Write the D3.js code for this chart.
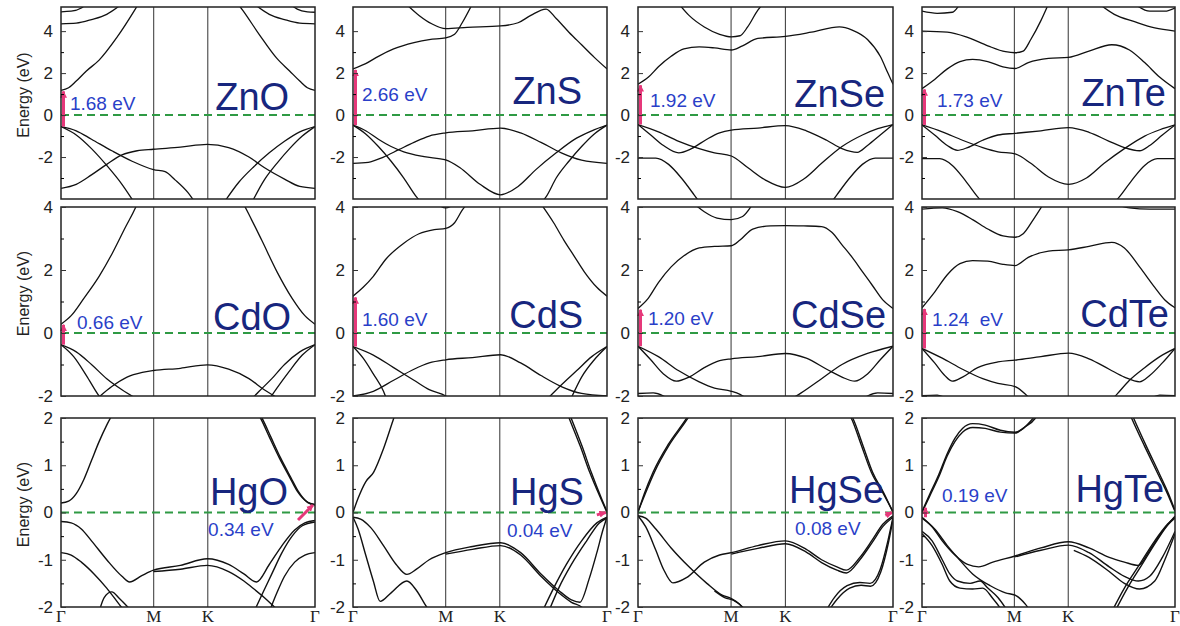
<!DOCTYPE html>
<html>
<head>
<meta charset="utf-8">
<script src="https://cdn.jsdelivr.net/npm/d3@7"></script>
<style>
  body { margin: 0; background: #fff; }
  svg { display: block; }
</style>
</head>
<body>
<div id="chart"></div>
<script>
// ---- data -------------------------------------------------------------
const materials = ["ZnO", "ZnS", "ZnSe", "ZnTe", "CdO", "CdS", "CdSe", "CdTe", "HgO", "HgS", "HgSe", "HgTe"]
const gapLabels = ["1.68 eV", "2.66 eV", "1.92 eV", "1.73 eV", "0.66 eV", "1.60 eV", "1.20 eV", "1.24  eV", "0.34 eV", "0.04 eV", "0.08 eV", "0.19 eV"]

// high-symmetry points along the path (fraction of path length)
const kLabels = ["Γ", "M", "K", "Γ"]
const kTicks = [0, 0.365, 0.578, 1]

// energy windows (eV) and ticks per row
const rowDomains = [[-4, 5.15], [-2, 4], [-2, 2]]
const rowTicks = [[-2, 0, 2, 4], [-2, 0, 2, 4], [-2, -1, 0, 1, 2]]
const rowMinorTicks = [[-3, -1, 1, 3], [-1, 1, 3], [-1.5, -0.5, 0.5, 1.5]]

// gap arrows: [k, E] start (VBM) -> end (CBM)
const gapArrows = [
  [[0, -0.55], [0, 1.13]], [[0, -0.48], [0, 2.15]], [[0, -0.45], [0, 1.42]], [[0, -0.47], [0, 1.22]],
  [[0, -0.37], [0, 0.26]], [[0, -0.43], [0, 1.13]], [[0, -0.42], [0, 0.74]], [[0, -0.49], [0, 0.76]],
  [[0.933, -0.16], [0.992, 0.16]], [[0.96, -0.05], [0.995, 0.0]], [[0.97, -0.06], [0.996, 0.0]], [[0.004, -0.1], [0.004, 0.1]]
]

// bands: each is a list of [k, E(eV)]
const bandsZnO = [
  [[0, 1.18], [0.03, 1.3], [0.06, 1.62], [0.1, 2.1], [0.15, 2.62], [0.22, 3.7], [0.29, 5.0], [0.31, 5.4]],
  [[0.69, 5.4], [0.715, 5.0], [0.78, 3.85], [0.85, 2.7], [0.9, 2.1], [0.94, 1.62], [0.97, 1.3], [1, 1.18]],
  [[0, 4.35], [0.06, 4.38], [0.12, 4.55], [0.18, 4.8], [0.24, 5.3]],
  [[0.76, 5.3], [0.82, 4.8], [0.88, 4.55], [0.94, 4.38], [1, 4.35]],
  [[0, 4.92], [0.04, 4.95], [0.08, 5.1], [0.1, 5.3]],
  [[0.9, 5.3], [0.93, 5.05], [0.97, 4.92], [1, 4.9]],
  [[0, -3.49], [0.06, -3.3], [0.12, -2.85], [0.18, -2.35], [0.24, -1.9], [0.3, -1.7], [0.364, -1.63], [0.47, -1.53], [0.576, -1.4], [0.66, -1.55], [0.74, -2.0], [0.8, -2.5], [0.88, -3.05], [0.94, -3.4], [1, -3.49]],
  [[0, -0.55], [0.06, -0.75], [0.12, -1.15], [0.2, -1.7], [0.28, -2.2], [0.364, -2.6], [0.41, -2.7], [0.45, -3.1], [0.5, -3.7], [0.53, -4.2]],
  [[0, -0.55], [0.06, -0.95], [0.12, -1.6], [0.18, -2.4], [0.24, -3.3], [0.29, -4.2]],
  [[0.64, -4.2], [0.7, -3.2], [0.76, -2.45], [0.82, -1.8], [0.88, -1.25], [0.94, -0.8], [1, -0.55]],
  [[0.75, -4.2], [0.8, -3.1], [0.85, -2.3], [0.9, -1.6], [0.95, -1.0], [1, -0.55]]
]
const bandsZnS = [
  [[0, 2.2], [0.05, 2.45], [0.1, 2.8], [0.16, 3.15], [0.24, 3.45], [0.3, 3.6], [0.365, 3.68], [0.4, 3.85], [0.43, 4.4], [0.47, 5.3]],
  [[0.2, 5.4], [0.26, 4.75], [0.31, 4.35], [0.365, 4.12], [0.45, 4.18], [0.581, 4.25], [0.65, 4.4], [0.7, 4.75], [0.76, 5.05], [0.8, 4.6], [0.85, 3.95], [0.9, 3.35], [0.95, 2.75], [1, 2.2]],
  [[0, -2.3], [0.06, -2.25], [0.12, -2.0], [0.18, -1.65], [0.24, -1.3], [0.3, -1.0], [0.365, -0.85], [0.47, -0.75], [0.581, -0.62], [0.66, -0.85], [0.74, -1.3], [0.82, -1.8], [0.9, -2.15], [1, -2.3]],
  [[0, -0.48], [0.05, -0.75], [0.1, -1.15], [0.15, -1.5], [0.2, -1.75], [0.28, -1.98], [0.365, -2.14], [0.42, -2.5], [0.5, -3.3], [0.581, -3.8], [0.65, -3.4], [0.72, -2.6], [0.8, -1.8], [0.88, -1.1], [0.94, -0.75], [1, -0.48]],
  [[0, -0.48], [0.05, -0.9], [0.1, -1.5], [0.15, -2.2], [0.2, -3.0], [0.25, -3.9], [0.28, -4.3]],
  [[0.73, -4.3], [0.76, -3.9], [0.8, -3.0], [0.85, -2.2], [0.9, -1.5], [0.95, -0.9], [1, -0.48]]
]
const bandsZnSe = [
  [[0, 1.47], [0.04, 1.8], [0.08, 2.3], [0.13, 2.8], [0.18, 3.15], [0.24, 3.25], [0.3, 3.2], [0.366, 3.1], [0.41, 3.3], [0.47, 3.65], [0.578, 3.75], [0.68, 3.95], [0.79, 4.2], [0.84, 4.05], [0.9, 3.6], [0.95, 2.8], [0.98, 2.0], [1, 1.47]],
  [[0.16, 5.3], [0.2, 4.75], [0.26, 4.2], [0.32, 3.85], [0.366, 3.73], [0.4, 3.78], [0.43, 4.2], [0.47, 5.0], [0.49, 5.3]],
  [[0, -0.45], [0.05, -0.95], [0.1, -1.45], [0.16, -1.8], [0.21, -1.6], [0.27, -1.15], [0.32, -0.85], [0.366, -0.72], [0.47, -0.62], [0.578, -0.5], [0.66, -0.75], [0.74, -1.2], [0.8, -1.6], [0.86, -1.78], [0.9, -1.45], [0.95, -0.95], [1, -0.45]],
  [[0, -0.45], [0.08, -0.8], [0.16, -1.25], [0.24, -1.6], [0.3, -1.8], [0.366, -1.95], [0.43, -2.5], [0.5, -3.1], [0.578, -3.45], [0.65, -3.05], [0.72, -2.3], [0.8, -1.5], [0.88, -0.95], [0.94, -0.65], [1, -0.45]],
  [[0, -2.05], [0.07, -2.05], [0.12, -2.35], [0.17, -3.0], [0.22, -3.8], [0.25, -4.3]],
  [[0.75, -4.3], [0.78, -3.8], [0.83, -3.0], [0.88, -2.35], [0.93, -2.05], [1, -2.05]]
]
const bandsZnTe = [
  [[0, 1.26], [0.05, 1.7], [0.1, 2.2], [0.15, 2.55], [0.2, 2.65], [0.26, 2.55], [0.32, 2.3], [0.368, 2.22], [0.42, 2.5], [0.5, 2.7], [0.579, 2.75], [0.66, 3.05], [0.75, 3.35], [0.82, 3.1], [0.88, 2.5], [0.94, 1.8], [1, 1.26]],
  [[0, 4.0], [0.1, 3.95], [0.18, 3.7], [0.26, 3.3], [0.33, 3.02], [0.368, 2.97], [0.4, 3.05], [0.43, 3.6], [0.47, 4.5], [0.5, 5.3]],
  [[0.7, 5.3], [0.76, 4.8], [0.84, 4.45], [0.92, 4.15], [1, 4.0]],
  [[0.84, 5.3], [0.9, 4.95], [0.96, 4.95], [1, 5.1]],
  [[0, 4.95], [0.06, 4.85], [0.12, 4.9], [0.15, 5.3]],
  [[0, -0.47], [0.05, -0.95], [0.1, -1.45], [0.14, -1.68], [0.18, -1.55], [0.24, -1.2], [0.3, -0.95], [0.368, -0.87], [0.47, -0.75], [0.579, -0.6], [0.66, -0.82], [0.74, -1.25], [0.8, -1.55], [0.86, -1.7], [0.9, -1.45], [0.95, -0.95], [1, -0.47]],
  [[0, -0.47], [0.08, -0.8], [0.16, -1.2], [0.24, -1.55], [0.3, -1.75], [0.368, -1.85], [0.43, -2.3], [0.5, -2.95], [0.579, -3.3], [0.65, -3.0], [0.72, -2.3], [0.8, -1.6], [0.88, -1.0], [0.94, -0.7], [1, -0.47]],
  [[0, -2.08], [0.07, -2.08], [0.12, -2.4], [0.17, -3.1], [0.22, -3.9], [0.25, -4.3]],
  [[0.75, -4.3], [0.78, -3.9], [0.83, -3.1], [0.88, -2.4], [0.93, -2.08], [1, -2.08]]
]
const bandsCdO = [
  [[0, 0.28], [0.04, 0.55], [0.09, 1.1], [0.15, 1.8], [0.2, 2.5], [0.25, 3.3], [0.3, 4.1], [0.31, 4.3]],
  [[0.7, 4.3], [0.71, 4.2], [0.75, 3.6], [0.79, 2.95], [0.85, 1.95], [0.91, 1.1], [0.96, 0.55], [1, 0.28]],
  [[0.14, -2.1], [0.2, -1.7], [0.26, -1.4], [0.32, -1.25], [0.364, -1.19], [0.47, -1.12], [0.576, -1.01], [0.66, -1.15], [0.74, -1.45], [0.8, -1.8], [0.84, -2.0], [0.86, -2.1]],
  [[0, -0.37], [0.05, -0.75], [0.1, -1.35], [0.15, -2.0], [0.17, -2.2]],
  [[0, -0.37], [0.06, -0.6], [0.12, -1.0], [0.18, -1.45], [0.24, -1.8], [0.3, -2.1]],
  [[0.82, -2.1], [0.85, -1.75], [0.9, -1.2], [0.95, -0.7], [1, -0.37]],
  [[0.75, -2.1], [0.78, -1.85], [0.83, -1.45], [0.88, -1.0], [0.94, -0.6], [1, -0.37]]
]
const bandsCdS = [
  [[0, 1.17], [0.04, 1.45], [0.08, 1.8], [0.13, 2.35], [0.2, 2.85], [0.26, 3.15], [0.32, 3.28], [0.365, 3.32], [0.4, 3.5], [0.43, 3.9], [0.46, 4.2]],
  [[0.33, 4.1], [0.365, 3.97], [0.4, 4.1]],
  [[0.74, 4.1], [0.79, 3.5], [0.83, 2.95], [0.87, 2.45], [0.91, 1.95], [0.96, 1.45], [1, 1.17]],
  [[0, -2.0], [0.08, -1.85], [0.16, -1.5], [0.24, -1.15], [0.3, -0.95], [0.365, -0.85], [0.47, -0.78], [0.581, -0.69], [0.66, -0.95], [0.74, -1.35], [0.82, -1.7], [0.9, -1.92], [1, -2.0]],
  [[0, -0.43], [0.08, -0.7], [0.16, -1.1], [0.24, -1.5], [0.3, -1.8], [0.365, -2.0], [0.4, -2.2]],
  [[0.77, -2.05], [0.82, -1.65], [0.88, -1.2], [0.94, -0.75], [1, -0.43]],
  [[0.86, -2.05], [0.9, -1.4], [0.95, -0.85], [1, -0.43]],
  [[0, -0.43], [0.04, -0.8], [0.08, -1.3], [0.12, -1.85], [0.13, -2.05]]
]
const bandsCdSe = [
  [[0, 0.78], [0.04, 1.1], [0.08, 1.6], [0.13, 2.1], [0.18, 2.45], [0.24, 2.7], [0.3, 2.75], [0.366, 2.77], [0.4, 2.95], [0.45, 3.3], [0.52, 3.4], [0.578, 3.41], [0.65, 3.4], [0.72, 3.38], [0.76, 3.2], [0.8, 2.8], [0.84, 2.4], [0.88, 1.95], [0.92, 1.5], [0.96, 1.05], [1, 0.78]],
  [[0.22, 4.1], [0.26, 3.85], [0.31, 3.65], [0.366, 3.6], [0.41, 3.7], [0.45, 4.1]],
  [[0, -0.42], [0.05, -0.85], [0.1, -1.3], [0.15, -1.53], [0.2, -1.4], [0.26, -1.1], [0.32, -0.88], [0.366, -0.82], [0.47, -0.75], [0.578, -0.65], [0.66, -0.8], [0.74, -1.15], [0.8, -1.4], [0.85, -1.53], [0.9, -1.3], [0.95, -0.85], [1, -0.42]],
  [[0, -0.42], [0.08, -0.75], [0.16, -1.2], [0.24, -1.55], [0.3, -1.75], [0.366, -1.85], [0.4, -1.95], [0.43, -2.1]],
  [[0.6, -2.1], [0.64, -1.9], [0.72, -1.45], [0.8, -1.0], [0.9, -0.65], [1, -0.42]],
  [[0, -1.92], [0.06, -1.9], [0.1, -2.0], [0.12, -2.1]],
  [[0.88, -2.1], [0.9, -2.0], [0.94, -1.9], [1, -1.92]]
]
const bandsCdTe = [
  [[0, 0.8], [0.05, 1.3], [0.1, 1.85], [0.15, 2.2], [0.2, 2.3], [0.26, 2.28], [0.32, 2.18], [0.368, 2.14], [0.42, 2.4], [0.5, 2.6], [0.579, 2.64], [0.66, 2.75], [0.75, 2.88], [0.8, 2.7], [0.86, 2.1], [0.92, 1.45], [0.96, 1.05], [1, 0.8]],
  [[0, 3.93], [0.08, 3.97], [0.14, 3.85], [0.2, 3.6], [0.26, 3.3], [0.32, 3.08], [0.368, 3.04], [0.4, 3.15], [0.44, 3.6], [0.48, 4.1]],
  [[0.76, 4.1], [0.82, 3.97], [0.9, 3.93], [1, 3.93]],
  [[0, -0.49], [0.05, -0.95], [0.09, -1.35], [0.12, -1.53], [0.16, -1.4], [0.22, -1.1], [0.3, -0.92], [0.368, -0.86], [0.47, -0.75], [0.579, -0.64], [0.66, -0.82], [0.74, -1.15], [0.8, -1.4], [0.86, -1.55], [0.9, -1.35], [0.95, -0.95], [1, -0.49]],
  [[0, -0.49], [0.08, -0.8], [0.16, -1.15], [0.24, -1.45], [0.3, -1.6], [0.368, -1.7], [0.41, -1.95], [0.44, -2.2]],
  [[0.74, -2.2], [0.77, -1.95], [0.82, -1.5], [0.88, -1.1], [0.94, -0.75], [1, -0.49]],
  [[0, -1.99], [0.06, -1.97], [0.1, -2.1]],
  [[0.9, -2.1], [0.94, -1.97], [1, -1.99]]
]
const bandsHgO = [
  [[0, 0.2], [0.03, 0.24], [0.06, 0.4], [0.09, 0.7], [0.12, 1.1], [0.15, 1.5], [0.18, 1.85], [0.21, 2.15]],
  [[0.77, 2.15], [0.79, 1.95], [0.82, 1.6], [0.86, 1.15], [0.9, 0.75], [0.93, 0.45], [0.97, 0.22], [1, 0.17]],
  [[0.776, 2.15], [0.796, 1.95], [0.826, 1.6], [0.865, 1.15], [0.905, 0.74], [0.935, 0.44], [0.972, 0.21], [1, 0.16]],
  [[0, -0.19], [0.04, -0.22], [0.08, -0.35], [0.12, -0.6], [0.18, -1.0], [0.24, -1.35], [0.27, -1.47], [0.32, -1.33], [0.364, -1.22], [0.47, -1.12], [0.576, -0.98], [0.66, -1.1], [0.72, -1.3], [0.77, -1.47], [0.82, -1.1], [0.87, -0.7], [0.92, -0.37], [0.96, -0.22], [1, -0.17]],
  [[0.364, -1.25], [0.47, -1.2], [0.576, -1.12], [0.66, -1.25], [0.72, -1.45], [0.76, -1.62], [0.8, -1.8], [0.84, -2.0], [0.86, -2.1]],
  [[0.76, -2.1], [0.79, -1.75], [0.83, -1.3], [0.87, -0.85], [0.91, -0.5], [0.95, -0.28], [1, -0.2]],
  [[0, -0.85], [0.04, -0.9], [0.08, -1.05], [0.13, -1.3], [0.18, -1.6], [0.23, -1.95], [0.26, -2.15]],
  [[0.15, -2.1], [0.17, -1.8], [0.2, -1.68], [0.23, -1.82], [0.28, -2.1]],
  [[0.82, -2.1], [0.85, -1.7], [0.88, -1.35], [0.92, -1.05], [0.96, -0.9], [1, -0.85]]
]
const bandsHgS = [
  [[0, 0], [0.02, 0.3], [0.05, 0.65], [0.081, 0.85], [0.12, 1.35], [0.16, 1.99], [0.17, 2.15]],
  [[0.84, 2.15], [0.853, 1.97], [0.895, 1.4], [0.932, 0.85], [0.975, 0.3], [1, 0]],
  [[0.848, 2.15], [0.861, 1.97], [0.902, 1.4], [0.938, 0.85], [0.978, 0.3], [1, 0.02]],
  [[0, -0.1], [0.03, -0.14], [0.07, -0.32], [0.12, -0.7], [0.17, -1.1], [0.212, -1.31], [0.25, -1.2], [0.3, -1.0], [0.365, -0.85], [0.47, -0.72], [0.581, -0.64], [0.66, -0.85], [0.74, -1.3], [0.81, -1.65], [0.86, -1.85], [0.893, -1.9], [0.93, -1.4], [0.96, -0.85], [0.985, -0.35], [1, -0.1]],
  [[0.365, -0.88], [0.47, -0.78], [0.581, -0.7], [0.66, -0.9], [0.74, -1.35], [0.81, -1.7], [0.86, -1.9], [0.9, -2.0], [0.92, -2.1]],
  [[0.745, -2.1], [0.79, -1.6], [0.84, -1.1], [0.9, -0.6], [0.96, -0.22], [1, -0.1]],
  [[0.77, -2.1], [0.81, -1.6], [0.86, -1.1], [0.92, -0.6], [0.97, -0.22], [1, -0.12]],
  [[0, -0.1], [0.02, -0.35], [0.05, -0.9], [0.08, -1.45], [0.107, -1.88], [0.15, -1.7], [0.212, -1.45], [0.25, -1.65], [0.29, -2.0], [0.31, -2.15]]
]
const bandsHgSe = [
  [[0, 0], [0.025, 0.4], [0.059, 0.85], [0.12, 1.45], [0.19, 1.99], [0.205, 2.12]],
  [[0, 0.02], [0.03, 0.42], [0.064, 0.85], [0.125, 1.45], [0.195, 1.99], [0.21, 2.12]],
  [[0.83, 2.12], [0.843, 1.99], [0.88, 1.45], [0.92, 0.85], [0.965, 0.4], [1, 0]],
  [[0.824, 2.12], [0.837, 1.99], [0.874, 1.45], [0.915, 0.85], [0.962, 0.4], [1, 0.02]],
  [[0, -0.07], [0.03, -0.12], [0.07, -0.35], [0.13, -0.75], [0.2, -1.15], [0.27, -1.5], [0.33, -1.75], [0.366, -1.82], [0.4, -1.95], [0.42, -2.1]],
  [[0.3, -1.66], [0.34, -1.8], [0.375, -1.86], [0.41, -2.0], [0.43, -2.12]],
  [[0, -0.07], [0.03, -0.3], [0.07, -0.8], [0.1, -1.2], [0.137, -1.49], [0.19, -1.38], [0.26, -1.05], [0.32, -0.9], [0.366, -0.85], [0.47, -0.7], [0.578, -0.6], [0.66, -0.78], [0.72, -1.0], [0.78, -1.15], [0.817, -1.22], [0.87, -0.95], [0.92, -0.57], [0.96, -0.25], [1, -0.07]],
  [[0.366, -0.88], [0.47, -0.76], [0.578, -0.66], [0.66, -0.84], [0.72, -1.06], [0.78, -1.22], [0.817, -1.28], [0.87, -1.0], [0.92, -0.62], [0.96, -0.3], [1, -0.1]],
  [[0.735, -2.1], [0.77, -1.8], [0.82, -1.55], [0.87, -1.48], [0.91, -1.5], [0.95, -1.2], [0.98, -0.6], [1, -0.1]],
  [[0.745, -2.1], [0.78, -1.84], [0.83, -1.6], [0.875, -1.54], [0.912, -1.56], [0.952, -1.26], [0.982, -0.64], [1, -0.14]]
]
const bandsHgTe = [
  [[0, 0.02], [0.03, 0.38], [0.066, 0.8], [0.1, 1.25], [0.13, 1.57], [0.16, 1.78], [0.2, 1.88], [0.25, 1.85], [0.31, 1.74], [0.368, 1.7], [0.41, 1.82], [0.447, 1.99], [0.46, 2.1]],
  [[0, 0], [0.03, 0.34], [0.066, 0.75], [0.1, 1.2], [0.13, 1.5], [0.16, 1.7], [0.2, 1.8], [0.25, 1.78], [0.31, 1.7], [0.368, 1.68], [0.4, 1.78], [0.44, 2.0], [0.455, 2.1]],
  [[0.82, 2.1], [0.829, 1.99], [0.88, 1.4], [0.934, 0.8], [0.97, 0.4], [1, 0.02]],
  [[0.828, 2.1], [0.837, 1.99], [0.887, 1.4], [0.94, 0.8], [0.974, 0.4], [1, 0.04]],
  [[0, -0.1], [0.04, -0.3], [0.08, -0.6], [0.13, -0.9], [0.18, -1.1], [0.224, -1.15], [0.28, -1.05], [0.368, -0.92], [0.47, -0.75], [0.579, -0.62], [0.66, -0.75], [0.74, -0.95], [0.8, -1.05], [0.855, -1.12], [0.9, -0.8], [0.95, -0.4], [1, -0.08]],
  [[0.368, -0.94], [0.47, -0.8], [0.579, -0.69], [0.66, -0.85], [0.74, -1.15], [0.8, -1.35], [0.855, -1.45], [0.9, -1.35], [0.95, -0.95], [1, -0.4]],
  [[0.6, -0.8], [0.66, -0.95], [0.74, -1.25], [0.8, -1.5], [0.86, -1.62], [0.92, -1.45], [0.96, -1.0], [1, -0.45]],
  [[0, -0.4], [0.04, -0.6], [0.08, -1.0], [0.11, -1.3], [0.14, -1.45], [0.19, -1.5], [0.23, -1.45], [0.26, -1.6], [0.3, -1.8], [0.34, -2.1]],
  [[0, -0.45], [0.04, -0.7], [0.08, -1.1], [0.11, -1.45], [0.15, -1.6], [0.2, -1.62], [0.24, -1.6], [0.28, -1.82], [0.32, -2.1]],
  [[0, -0.12], [0.05, -0.35], [0.1, -0.7], [0.14, -0.95], [0.2, -1.3], [0.27, -1.55], [0.33, -1.7], [0.368, -1.75], [0.41, -1.95], [0.43, -2.1]],
  [[0.75, -2.1], [0.8, -1.6], [0.86, -1.1], [0.92, -0.6], [0.97, -0.25], [1, -0.1]],
  [[0.762, -2.1], [0.812, -1.6], [0.87, -1.1], [0.928, -0.6], [0.974, -0.25], [1, -0.12]]
]

// label anchors in data units [k, E]
const gapLabelAt = [[0.035, 0.24], [0.035, 0.67], [0.047, 0.38], [0.059, 0.38], [0.063, 0.13], [0.035, 0.22], [0.039, 0.25], [0.04, 0.22], [0.579, -0.5], [0.606, -0.52], [0.616, -0.48], [0.079, 0.22]]
const nameLabelAt = [[0.898, 0.24], [0.902, 0.52], [0.969, 0.38], [0.964, 0.43], [0.906, 0.1], [0.906, 0.16], [0.973, 0.16], [0.976, 0.19], [0.894, 0.16], [0.909, 0.16], [0.965, 0.2], [0.957, 0.22]]

const bandSets = [bandsZnO, bandsZnS, bandsZnSe, bandsZnTe, bandsCdO, bandsCdS, bandsCdSe, bandsCdTe, bandsHgO, bandsHgS, bandsHgSe, bandsHgTe]

// ---- layout -----------------------------------------------------------
const W = 1180, H = 626
const colLeft = [61, 353, 638, 922]
const colRight = [315, 607, 893, 1175]
const rowPix = [[199, 7], [396, 207], [607, 418]]
const sans = "'Liberation Sans', Arial, Helvetica, sans-serif"
const serif = "'Liberation Serif', 'Times New Roman', serif"

const svg = d3.select("#chart").append("svg")
  .attr("width", W)
  .attr("height", H)
  .style("background", "#fff")

const defs = svg.append("defs")
defs.append("marker")
  .attr("id", "gap-head")
  .attr("viewBox", "0 0 10 10")
  .attr("refX", 9)
  .attr("refY", 5)
  .attr("markerUnits", "userSpaceOnUse")
  .attr("markerWidth", 7)
  .attr("markerHeight", 7)
  .attr("orient", "auto")
  .append("path")
    .attr("d", "M0,0 L10,5 L0,10 z")
    .attr("fill", "#e6387a")

materials.forEach((name, i) => {
  const row = Math.floor(i / 4), col = i % 4
  const x = d3.scaleLinear().domain([0, 1]).range([colLeft[col], colRight[col]])
  const y = d3.scaleLinear().domain(rowDomains[row]).range(rowPix[row])
  const g = svg.append("g").attr("class", "panel")

  const clipId = `clip-${i}`
  defs.append("clipPath").attr("id", clipId)
    .append("rect")
      .attr("x", x(0)).attr("y", y.range()[1])
      .attr("width", x(1) - x(0)).attr("height", y.range()[0] - y.range()[1])

  // high-symmetry verticals
  g.selectAll("line.ksym")
    .data(kTicks.slice(1, 3))
    .join("line")
      .attr("class", "ksym")
      .attr("x1", d => x(d)).attr("x2", d => x(d))
      .attr("y1", y.range()[0]).attr("y2", y.range()[1])
      .attr("stroke", "#333")
      .attr("stroke-width", 1)

  // bands
  const line = d3.line()
    .x(d => x(d[0]))
    .y(d => y(d[1]))
    .curve(d3.curveMonotoneX)

  g.append("g")
    .attr("clip-path", `url(#${clipId})`)
    .selectAll("path")
    .data(bandSets[i].map(b => [...b].sort((a, c) => a[0] - c[0])))
    .join("path")
      .attr("d", line)
      .attr("fill", "none")
      .attr("stroke", "#111")
      .attr("stroke-width", row == 2 ? 1.4 : 1.3)

  // Fermi level
  g.append("line")
    .attr("x1", x(0)).attr("x2", x(1))
    .attr("y1", y(0)).attr("y2", y(0))
    .attr("stroke", "#2f9a44")
    .attr("stroke-width", 2)
    .attr("stroke-dasharray", "8,5")

  // gap arrow
  const [from, to] = gapArrows[i]
  const vertical = from[0] == to[0]
  g.append("line")
    .attr("x1", x(from[0]) + (vertical ? 2.5 : 0))
    .attr("x2", x(to[0]) + (vertical ? 2.5 : 0))
    .attr("y1", y(from[1]))
    .attr("y2", y(to[1]))
    .attr("stroke", "#e6387a")
    .attr("stroke-width", 3)
    .attr("marker-end", "url(#gap-head)")

  // frame
  g.append("rect")
    .attr("x", x(0)).attr("y", y.range()[1])
    .attr("width", x(1) - x(0)).attr("height", y.range()[0] - y.range()[1])
    .attr("fill", "none")
    .attr("stroke", "#222")
    .attr("stroke-width", 1.5)

  // y axis (ticks point inward)
  const yAxis = g.append("g")
    .attr("transform", `translate(${x(0)},0)`)
    .call(d3.axisLeft(y).tickValues(rowTicks[row]).tickSize(-5).tickPadding(8)
      .tickFormat(d => String(d)))
  g.append("g")
    .attr("transform", `translate(${x(0)},0)`)
    .call(d3.axisLeft(y).tickValues(rowMinorTicks[row]).tickSize(-3).tickFormat(""))
    .call(a => a.select(".domain").remove())
  yAxis.select(".domain").remove()
  yAxis.selectAll(".tick line").attr("stroke", "#333")
  yAxis.selectAll("text")
    .attr("font-family", sans)
    .attr("font-size", 17)
    .attr("fill", "#222")

  if (col == 0) {
    g.append("text")
      .attr("transform", `translate(29,${(y.range()[0] + y.range()[1]) / 2 - 8}) rotate(-90)`)
      .attr("text-anchor", "middle")
      .attr("font-family", sans)
      .attr("font-size", 16)
      .attr("fill", "#222")
      .text("Energy (eV)")
  }

  if (row == 2) {
    g.selectAll("text.klabel")
      .data(kTicks)
      .join("text")
        .attr("class", "klabel")
        .attr("x", d => x(d))
        .attr("y", y.range()[0] + 15)
        .attr("text-anchor", "middle")
        .attr("font-family", serif)
        .attr("font-size", 17)
        .attr("fill", "#222")
        .text((d, j) => kLabels[j])
  }

  // labels
  g.append("text")
    .attr("x", x(gapLabelAt[i][0]))
    .attr("y", y(gapLabelAt[i][1]))
    .attr("font-family", sans)
    .attr("font-size", 19)
    .attr("fill", "#2a3fc8")
    .attr("xml:space", "preserve")
    .style("white-space", "pre")
    .text(gapLabels[i])

  g.append("text")
    .attr("x", x(nameLabelAt[i][0]))
    .attr("y", y(nameLabelAt[i][1]))
    .attr("text-anchor", "end")
    .attr("font-family", sans)
    .attr("font-size", 38)
    .attr("fill", "#17267e")
    .text(name)
})
</script>
</body>
</html>
